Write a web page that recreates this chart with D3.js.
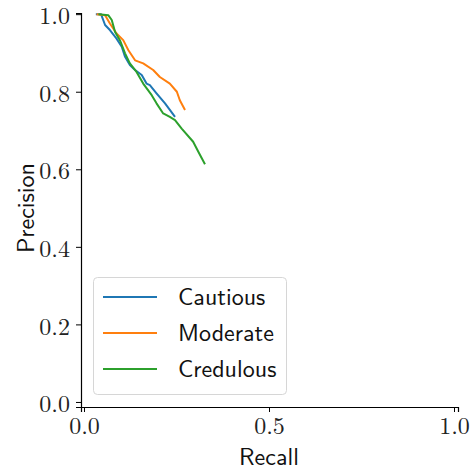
<!DOCTYPE html>
<html>
<head>
<meta charset="utf-8">
<script src="https://cdn.jsdelivr.net/npm/d3@7"></script>
<style>
html,body{margin:0;padding:0;background:#fff;}
svg{display:block;}
</style>
</head>
<body>
<svg id="chart" width="471" height="473"></svg>
<script>
const seriesNames = ["Cautious", "Moderate", "Credulous"];
const seriesColors = ["#1f77b4", "#ff7f0e", "#2ca02c"];
const cautiousRecall = [0.032,0.046,0.057,0.070,0.088,0.102,0.111,0.124,0.138,0.156,0.169,0.178,0.196,0.219,0.246];
const cautiousPrecision = [1.0,1.0,0.972,0.959,0.937,0.916,0.890,0.869,0.856,0.843,0.821,0.817,0.796,0.770,0.735];
const moderateRecall = [0.034,0.057,0.070,0.088,0.106,0.120,0.138,0.160,0.187,0.205,0.232,0.251,0.259,0.273];
const moderatePrecision = [1.0,0.997,0.976,0.950,0.933,0.907,0.881,0.873,0.856,0.838,0.821,0.800,0.778,0.753];
const credulousRecall = [0.039,0.066,0.075,0.084,0.097,0.111,0.124,0.142,0.160,0.183,0.196,0.214,0.232,0.246,0.264,0.295,0.309,0.327];
const credulousPrecision = [1.0,0.997,0.985,0.954,0.933,0.899,0.873,0.851,0.821,0.791,0.770,0.744,0.735,0.727,0.705,0.671,0.645,0.613];
const xTicks = [0, 0.5, 1.0];
const yTicks = [0, 0.2, 0.4, 0.6, 0.8, 1.0];
const xLabel = "Recall";
const yLabel = "Precision";

const series = [
  {name: seriesNames[0], color: seriesColors[0], xs: cautiousRecall, ys: cautiousPrecision},
  {name: seriesNames[1], color: seriesColors[1], xs: moderateRecall, ys: moderatePrecision},
  {name: seriesNames[2], color: seriesColors[2], xs: credulousRecall, ys: credulousPrecision}
];

const svg = d3.select("#chart");
const x = d3.scaleLinear().domain([-0.0081, 1.0108]).range([81, 458]);
const y = d3.scaleLinear().domain([-0.013, 1.003]).range([407, 13]);

const serif = "'Latin Modern Roman','CMU Serif','Liberation Serif',serif";
const sans = "'Latin Modern Sans','CMU Sans Serif',Lato,sans-serif";

// X axis
const gx = svg.append("g").attr("transform", "translate(0,407)")
  .call(d3.axisBottom(x).tickValues(xTicks).tickFormat(d3.format(".1f")).tickSizeOuter(0).tickSize(5).tickPadding(5));
gx.select(".domain").attr("stroke", "#000").attr("stroke-width", 1.2);
gx.selectAll(".tick line").attr("stroke", "#000").attr("stroke-width", 1);
gx.selectAll(".tick text").attr("font-family", serif).attr("font-size", 24).attr("fill", "#222");

// Y axis
const gy = svg.append("g").attr("transform", "translate(81,0)")
  .call(d3.axisLeft(y).tickValues(yTicks).tickFormat(d3.format(".1f")).tickSizeOuter(0).tickSize(5).tickPadding(6));
gy.select(".domain").attr("stroke", "#000").attr("stroke-width", 1.2);
gy.selectAll(".tick line").attr("stroke", "#000").attr("stroke-width", 1);
gy.selectAll(".tick text").attr("font-family", serif).attr("font-size", 24).attr("fill", "#222").attr("dy", "0.4em");

// Axis labels
svg.append("text").attr("x", (x(0) + x(1)) / 2).attr("y", 465)
  .attr("text-anchor", "middle").attr("font-family", sans).attr("font-size", 24).attr("fill", "#111").text(xLabel);
svg.append("text").attr("transform", `translate(34,${(y(0) + y(1)) / 2}) rotate(-90)`)
  .attr("text-anchor", "middle").attr("font-family", sans).attr("font-size", 24).attr("fill", "#111").text(yLabel);

// Lines
const line = d3.line().x(d => x(d[0])).y(d => y(d[1]));
series.forEach(s => {
  const pts = s.xs.map((v, i) => [v, s.ys[i]]);
  svg.append("path").datum(pts).attr("d", line).attr("fill", "none")
    .attr("stroke", s.color).attr("stroke-width", 2).attr("stroke-linejoin", "round");
});

// Legend
const lg = svg.append("g");
lg.append("rect").attr("x", 93.5).attr("y", 277.5).attr("width", 193).attr("height", 117)
  .attr("rx", 4).attr("fill", "#fff").attr("fill-opacity", 0.8).attr("stroke", "#d6d6d6").attr("stroke-width", 1);
series.forEach((s, i) => {
  const yy = 297 + i * 36;
  lg.append("line").attr("x1", 103).attr("x2", 157).attr("y1", yy).attr("y2", yy)
    .attr("stroke", s.color).attr("stroke-width", 2);
  lg.append("text").attr("x", 178).attr("y", yy).attr("dy", "0.35em")
    .attr("font-family", sans).attr("font-size", 24).attr("fill", "#111").text(s.name);
});
</script>
</body>
</html>
